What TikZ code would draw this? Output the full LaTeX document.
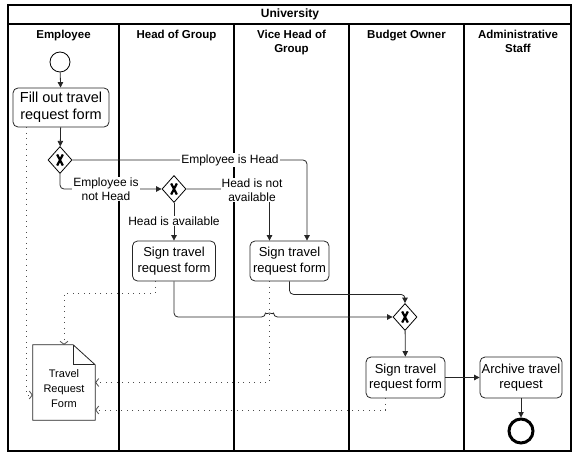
\documentclass[tikz,border=0pt]{standalone}
\usepackage{fontspec}
\setmainfont{Liberation Sans}
\usetikzlibrary{arrows.meta,shapes.geometric}
\begin{document}
\begin{tikzpicture}[x=1pt,y=-1pt,
  task/.style={draw=black!85, line width=0.8pt, rounded corners=5pt, minimum width=80pt, minimum height=40pt, align=center, inner sep=1pt, font=\fontsize{13}{15.5}\selectfont},
  gw/.style={draw=black, line width=0.8pt, diamond, fill=white, minimum width=24pt, minimum height=27pt, inner sep=0pt},
  lbl/.style={fill=white, inner sep=1pt, align=center, font=\fontsize{12}{14}\selectfont},
  hdr/.style={anchor=north, align=center, inner sep=0pt, font=\bfseries\fontsize{11.5}{14}\selectfont},
  flow/.style={draw=black!85, line width=0.8pt, rounded corners=4pt, -{Triangle[length=5.5pt,width=5.5pt]}},
  assoc/.style={draw=black!70, line width=0.9pt, dash pattern=on 0.9pt off 4.6pt, -{Straight Barb[length=3pt,width=8pt,line width=0.8pt]}},
  lane/.style={draw=black, line width=1.1pt}
]
\useasboundingbox (0,0) rectangle (577,454);
% frame and lanes
\draw[lane] (8,5) rectangle (571,451);
\draw[lane] (8,24) -- (571,24);
\foreach \x in {119,234,349,464} \draw[lane] (\x,24) -- (\x,451);
\node[font=\bfseries\fontsize{12}{14}\selectfont] (title) at (290,14.5) {University};
\node[hdr] (h1) at (63.5,30) {Employee};
\node[hdr] (h2) at (176.5,30) {Head of Group};
\node[hdr] (h3) at (291.5,30) {Vice Head of\\Group};
\node[hdr] (h4) at (406.5,30) {Budget Owner};
\node[hdr] (h5) at (518,30) {Administrative\\Staff};
% nodes
\node[circle, draw=black, line width=0.8pt, minimum size=20pt, inner sep=0pt] (start) at (60,62) {};
\node[task, minimum width=96pt, minimum height=39pt, font=\fontsize{14.5}{16.5}\selectfont] (fill) at (61,107.5) {Fill out travel\\request form};
\node[gw] (gw1) at (60,160) {};
\node[gw] (gw2) at (174,189) {};
\node[task, minimum width=83pt] (headsign) at (174,261) {Sign travel\\request form};
\node[task, minimum width=79pt] (vicesign) at (289.5,261) {Sign travel\\request form};
\node[gw] (gw3) at (405,317) {};
\node[task, minimum width=79pt, minimum height=41pt] (budget) at (405.5,377.5) {Sign travel\\request form};
\node[task, minimum width=82pt, minimum height=41pt] (archive) at (521,377.5) {Archive travel\\request};
\node[circle, draw=black, line width=3pt, minimum size=24pt, inner sep=0pt] (end) at (521,431) {};
% document
\node[minimum width=62pt, minimum height=75pt, inner sep=0pt] (doc) at (64,382.5) {};
\draw[draw=black!85, line width=0.8pt, fill=white] (doc.north west) -- ([xshift=-22pt]doc.north east) -- ([yshift=-20pt]doc.north east) -- (doc.south east) -- (doc.south west) -- cycle;
\draw[draw=black!85, line width=0.8pt] ([xshift=-22pt]doc.north east) -- ([xshift=-22pt,yshift=-20pt]doc.north east) -- ([yshift=-20pt]doc.north east);
\node[align=center, font=\fontsize{11}{15}\selectfont] (doctext) at (64,389) {Travel\\Request\\Form};
% X marks in gateways
\foreach \g in {gw1,gw2,gw3} {
  \draw[line width=2.2pt] ([shift={(-2.8pt,5.5pt)}]\g.center) -- ([shift={(2.8pt,-5.5pt)}]\g.center);
  \draw[line width=2.2pt] ([shift={(-2.8pt,-5.5pt)}]\g.center) -- ([shift={(2.8pt,5.5pt)}]\g.center);
}
% sequence flows
\draw[flow] (start) -- (fill);
\draw[flow] (fill) -- (gw1);
\draw[flow] (gw1.east) -| ([xshift=17.5pt]vicesign.north);
\draw[flow] (gw1.south) |- (gw2.west);
\draw[flow] (gw2.south) -- (headsign.north);
\draw[flow] (gw2.east) -| ([xshift=-20pt]vicesign.north);
\coordinate (hopA) at (265.5,317);
\draw[flow] (headsign.south) |- (hopA) arc (180:360:4) -- (gw3.west);
\draw[flow] (vicesign.south) -- ++(0,13) -| (gw3.north);
\draw[flow] (gw3) -- (budget);
\draw[flow] (budget) -- (archive);
\draw[flow] (archive) -- (end);
% labels
\node[lbl] (l1) at (230,160) {Employee is Head};
\node[lbl] (l2) at (106,189) {Employee is\\not Head};
\node[lbl] (l3) at (174,221) {Head is available};
\node[lbl] (l4) at (252,190) {Head is not\\available};
% data associations
\draw[assoc] ([xshift=-35pt]fill.south) |- ([yshift=-12.5pt]doc.west);
\draw[assoc] ([xshift=-19pt]headsign.south) -- ++(0,12) -| (doc.north);
\draw[assoc] ([xshift=-20pt]vicesign.south) |- (doc.east);
\draw[assoc] ([xshift=-20pt]budget.south) |- ([yshift=-27.5pt]doc.east);
\end{tikzpicture}
\end{document}
